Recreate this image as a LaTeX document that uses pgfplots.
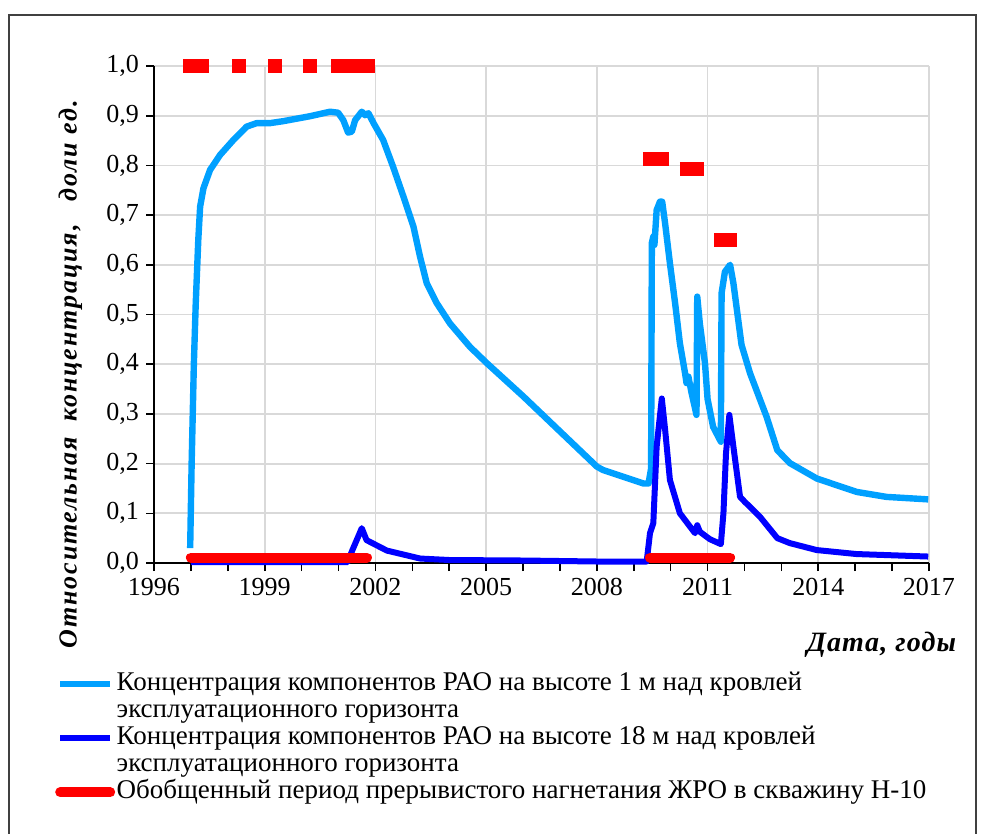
\documentclass[border=0pt]{standalone}
\usepackage{fontspec}
\setmainfont{Liberation Serif}
\newfontfamily\ylabfont[LetterSpace=7.0]{Liberation Serif}
\newfontfamily\xlabfont[LetterSpace=4.0]{Liberation Serif}
\usepackage{pgfplots}
\pgfplotsset{compat=1.18}
\definecolor{lblue}{RGB}{0,160,255}
\definecolor{dblue}{RGB}{0,0,255}
\definecolor{rred}{RGB}{255,0,0}
\definecolor{gridgray}{RGB}{217,217,217}
\begin{document}
\begin{tikzpicture}
\path[use as bounding box] (0pt,0pt) rectangle (491pt,-417pt);
\draw[line width=0.7pt, black!75] (4.5pt,-7.5pt) rectangle (488pt,-430pt);
\begin{axis}[
  at={(77pt,-281.5pt)}, anchor=south west,
  scale only axis, width=387.5pt, height=248.5pt,
  xmin=1996, xmax=2017, ymin=0, ymax=1,
  axis x line=bottom, axis y line=left,
  axis line style={line width=1pt, -},
  xtick={1996,1999,2002,2005,2008,2011,2014,2017},
  minor xtick={1997,1998,2000,2001,2003,2004,2006,2007,2009,2010,2012,2013,2015,2016},
  ytick={0,0.1,...,1.0},
  tick align=outside, major tick length=4pt, minor tick length=4pt,
  tick style={line width=0.8pt, black},
  xmajorgrids, ymajorgrids,
  major grid style={line width=0.9pt, gridgray},
  /pgf/number format/assume math mode=true,
  tick label style={font=\fontsize{13}{15}\selectfont},
  yticklabel style={/pgf/number format/.cd, fixed, fixed zerofill, precision=1, use comma},
  xticklabel style={/pgf/number format/1000 sep={}},
  clip=false,
  unbounded coords=jump,
  line join=round,
  xlabel={\xlabfont\bfseries\itshape Дата, годы},
  xlabel style={at={(rel axis cs:1.044,-0.165)}, anchor=east, font=\fontsize{14}{16}\selectfont},
  ylabel={\ylabfont\bfseries\itshape Относительная\hspace{0.6em}концентрация,\hspace{0.9em}доли ед.},
  ylabel style={at={(rel axis cs:-0.108,0.380)}, anchor=center, rotate=0, font=\fontsize{13}{15}\selectfont},
  legend style={at={(-0.128,-0.216)}, anchor=north west, draw=none, fill=none,
    inner sep=0pt, row sep=0pt, column sep=0pt,
    nodes={inner sep=0.75pt, text height=9pt, text depth=3pt},
    font=\fontsize{13.5}{15}\selectfont},
  legend cell align=left,
  legend image code/.code={\draw[#1] (0pt,0pt) -- (25pt,0pt);},
]
\addplot[lblue, line width=3.2pt] coordinates {
(1996.98,0.03) (1997.02,0.20) (1997.08,0.40) (1997.13,0.52) (1997.20,0.65)
(1997.25,0.717) (1997.34,0.754) (1997.52,0.791) (1997.79,0.821) (1998.15,0.851)
(1998.51,0.878) (1998.78,0.885) (1999.14,0.885) (1999.50,0.889) (2000.23,0.899)
(2000.77,0.908) (2000.99,0.906) (2001.13,0.891) (2001.26,0.866) (2001.36,0.868)
(2001.45,0.891) (2001.63,0.908) (2001.72,0.901) (2001.81,0.905) (2001.95,0.885)
(2002.21,0.851) (2002.48,0.797) (2002.76,0.737) (2003.03,0.677) (2003.21,0.616)
(2003.39,0.563) (2003.66,0.523) (2004.02,0.482) (2004.56,0.435) (2005.02,0.402)
(2006.01,0.335) (2008.0,0.194) (2008.17,0.187) (2009.26,0.160) (2009.40,0.160)
(2009.47,0.19) (2009.49,0.644) (2009.53,0.657) (2009.56,0.640) (2009.62,0.710)
(2009.71,0.727) (2009.77,0.727) (2009.85,0.683) (2009.98,0.603) (2010.12,0.523)
(2010.25,0.442) (2010.39,0.382) (2010.43,0.362) (2010.48,0.375) (2010.57,0.341)
(2010.70,0.298) (2010.72,0.536) (2010.79,0.482) (2010.93,0.402) (2011.00,0.330)
(2011.15,0.274) (2011.36,0.244) (2011.38,0.543) (2011.47,0.586) (2011.61,0.600)
(2011.70,0.563) (2011.92,0.439) (2012.15,0.382) (2012.60,0.294) (2012.89,0.227)
(2013.23,0.201) (2013.96,0.170) (2015.04,0.143) (2015.85,0.133) (2016.98,0.128)
};
\addlegendentry{Концентрация компонентов РАО на высоте 1 м над кровлей}
\addlegendimage{empty legend}
\addlegendentry{эксплуатационного горизонта}
\addplot[dblue, line width=3pt] coordinates {
(1997.0,0.002) (2001.25,0.002) (2001.36,0.023) (2001.63,0.070) (2001.76,0.046)
(2002.31,0.025) (2003.21,0.009) (2004.0,0.006) (2006.0,0.005) (2008.0,0.003)
(2009.35,0.003) (2009.44,0.060) (2009.53,0.080) (2009.62,0.234) (2009.76,0.331)
(2009.85,0.268) (2009.98,0.167) (2010.25,0.100) (2010.66,0.060) (2010.72,0.076)
(2010.79,0.063) (2011.06,0.048) (2011.36,0.038) (2011.43,0.100) (2011.50,0.221)
(2011.59,0.298) (2011.70,0.234) (2011.88,0.133) (2012.01,0.123) (2012.42,0.093)
(2012.89,0.050) (2013.23,0.040) (2013.96,0.026) (2015.04,0.018) (2016.98,0.013)
};
\addlegendentry{Концентрация компонентов РАО на высоте 18 м над кровлей}
\addlegendimage{empty legend}
\addlegendentry{эксплуатационного горизонта}
\addplot[rred, line width=5pt, line cap=round] coordinates {
(1997.0,0.011) (2001.77,0.011) (nan,nan) (2009.44,0.011) (2011.61,0.011)
};
\addlegendentry{Обобщенный период прерывистого нагнетания ЖРО в скважину Н-10}
\addplot[rred, line width=7pt, line cap=butt, forget plot] coordinates {
(1996.79,1) (1997.49,1) (nan,nan)
(1998.11,1) (1998.49,1) (nan,nan)
(1999.09,1) (1999.47,1) (nan,nan)
(2000.04,1) (2000.42,1) (nan,nan)
(2000.80,1) (2001.99,1) (nan,nan)
(2009.25,0.813) (2009.96,0.813) (nan,nan)
(2010.25,0.793) (2010.90,0.793) (nan,nan)
(2011.18,0.650) (2011.80,0.650)
};
\end{axis}
\end{tikzpicture}
\end{document}
